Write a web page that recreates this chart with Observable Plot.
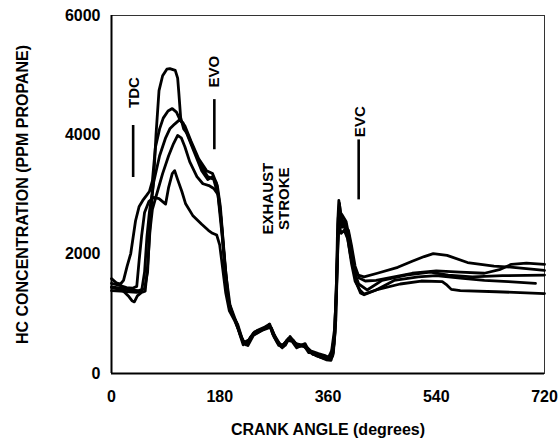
<!DOCTYPE html>
<html>
<head>
<meta charset="utf-8">
<script src="https://cdn.jsdelivr.net/npm/d3@7"></script>
<script src="https://cdn.jsdelivr.net/npm/@observablehq/plot@0.6"></script>
<style>
  html, body { margin: 0; padding: 0; background: #fff; }
</style>
</head>
<body>
<div id="chart"></div>
<script>
// Tick labels
const xTicks = [0, 180, 360, 540, 720];
const yTicks = [0, 2000, 4000, 6000];

// Five measured cycles: crank angle (deg) and HC concentration (ppm propane)
const cycle1Angle = [0,15,30,45,55,60,63,67,70,74,79,85,92,97,106,110,112,115,120,126,135,148,160,170,177,182,186,190,196,205,212,219,226,236,250,258,263,268,276,284,292,300,308,316,324,335,348,360,366,371,374,376,378,381,386,392,398,404,410,420,442,476,500,520,535,558,592,636,668,720];
const cycle1HC    = [1450,1430,1400,1390,1420,1700,2300,2900,3230,4000,4740,4990,5100,5110,5080,4950,4700,4290,4100,4020,3800,3500,3300,3250,3000,2500,2100,1550,1100,900,700,480,520,680,740,770,830,660,520,430,560,540,430,470,430,320,300,270,330,650,1500,2500,2900,2700,2500,2300,1950,1750,1650,1620,1680,1780,1880,1960,2010,1980,1860,1800,1780,1730];

const cycle2Angle = [0,8,15,20,26,32,40,46,52,58,63,68,73,80,86,94,101,108,114,122,132,145,158,168,176,181,185,190,195,203,210,218,224,232,245,256,263,270,278,286,296,305,312,322,328,340,355,364,368,372,375,377,379,382,388,394,399,405,412,422,440,470,500,540,580,620,645,665,690,720];
const cycle2HC    = [1590,1520,1500,1560,1800,2010,2560,2800,2900,2980,3050,3230,3790,4100,4280,4400,4440,4380,4250,4150,3900,3600,3400,3350,3150,2800,2300,1700,1200,950,820,560,480,620,700,760,800,620,470,450,600,520,460,500,380,300,250,240,300,700,1700,2600,2850,2550,2450,2400,2150,1800,1600,1550,1560,1620,1680,1720,1700,1680,1740,1830,1850,1830];

const cycle3Angle = [0,15,30,42,50,55,59,63,70,80,90,97,105,113,119,126,138,150,160,168,174,179,184,189,194,200,208,215,222,230,242,255,262,268,276,284,294,302,310,320,328,338,350,360,366,370,373,376,379,383,388,393,398,404,411,425,450,490,530,560,600,650,720];
const cycle3HC    = [1390,1380,1370,1360,1380,1700,2300,2700,3200,3650,3950,4100,4180,4250,4200,4000,3700,3400,3250,3300,3200,2900,2400,1750,1250,1000,850,620,500,580,720,780,820,700,530,460,590,560,450,470,350,340,290,260,290,500,1200,2200,2650,2450,2550,2350,2000,1700,1500,1400,1560,1650,1700,1650,1620,1640,1650];

const cycle4Angle = [0,10,20,28,34,38,43,50,56,60,64,68,75,85,95,103,110,116,122,130,142,152,162,170,177,182,186,191,197,206,213,220,228,238,252,261,266,272,282,291,299,308,318,326,334,345,357,365,369,373,376,378,382,387,393,399,405,413,420,440,470,510,540,580,620,660,705];
const cycle4HC    = [1440,1420,1380,1300,1220,1200,1300,1360,1380,1800,2400,2750,3000,3350,3650,3850,3990,3950,3800,3550,3300,3180,3150,3100,3000,2600,2100,1600,1150,900,680,520,560,700,750,790,760,600,450,540,580,470,460,420,330,280,230,220,350,900,2000,2500,2350,2400,2250,1850,1550,1400,1330,1400,1560,1620,1640,1600,1560,1540,1510];

const cycle5Angle = [0,12,25,35,42,46,50,55,62,70,79,85,90,95,101,105,110,117,123,135,150,161,168,175,180,185,190,196,204,212,219,227,236,250,260,265,271,280,289,297,306,316,324,331,344,355,361,366,371,374,377,380,384,390,395,401,408,414,420,440,480,515,550,558,565,580,640,720];
const cycle5HC    = [1510,1480,1440,1430,1460,1900,2300,2700,2880,2950,2930,2880,2840,3120,3350,3400,3250,3050,2850,2650,2500,2400,2350,2320,2150,1750,1350,1050,900,720,520,470,640,720,760,780,640,490,470,620,500,480,450,380,335,300,270,380,750,1400,2400,2700,2650,2550,2300,1900,1500,1350,1320,1400,1500,1550,1540,1480,1410,1390,1370,1340];

// Event markers
const markerNames = ["TDC", "EVO", "EVC"];
const markerAngle = [36, 171, 411];
const markerLow   = [3285, 3750, 2910];
const markerHigh  = [4156, 4590, 3915];
const markerLabelAngle = [37, 171, 414];
const markerLabelHC    = [4710, 5060, 4220];

const strokeLabel = ["EXHAUST\nSTROKE"];
const strokeLabelAngle = [274];
const strokeLabelHC = [2930];

const xTitle = "CRANK ANGLE (degrees)";
const yTitle = "HC CONCENTRATION (PPM PROPANE)";

const cycles = [
  [cycle1Angle, cycle1HC],
  [cycle2Angle, cycle2HC],
  [cycle3Angle, cycle3HC],
  [cycle4Angle, cycle4HC],
  [cycle5Angle, cycle5HC]
];
const rows = cycles.flatMap(([a, h], i) => a.map((x, j) => ({cycle: i + 1, angle: x, hc: h[j]})));
const markers = markerNames.map((n, i) => ({name: n, x: markerAngle[i], y1: markerLow[i], y2: markerHigh[i], lx: markerLabelAngle[i], ly: markerLabelHC[i]}));
const strokeRows = strokeLabel.map((t, i) => ({t, x: strokeLabelAngle[i], y: strokeLabelHC[i]}));

const font = "Liberation Sans, Arial, Helvetica, sans-serif";

const chart = Plot.plot({
  width: 559,
  height: 442,
  marginLeft: 111,
  marginRight: 15,
  marginTop: 15,
  marginBottom: 69,
  style: {fontFamily: font, fontSize: "16px", fontWeight: "bold", background: "#fff", color: "#000", overflow: "visible"},
  x: {domain: [0, 720]},
  y: {domain: [0, 6000]},
  marks: [
    Plot.frame({stroke: "#333", strokeWidth: 1}),
    Plot.axisX(xTicks, {tickSize: 0, tickPadding: 17, tickFormat: d => String(d), label: null, fontSize: 16}),
    Plot.axisY(yTicks, {tickSize: 0, tickPadding: 11, tickFormat: d => String(d), label: null, fontSize: 16}),
    Plot.ruleX([0], {stroke: "#000", strokeWidth: 2}),
    Plot.ruleY([0], {stroke: "#000", strokeWidth: 2}),
    Plot.line(rows, {x: "angle", y: "hc", z: "cycle", stroke: "#000", strokeWidth: 2.8, strokeLinejoin: "round", strokeLinecap: "round"}),
    Plot.ruleX(markers, {x: "x", y1: "y1", y2: "y2", stroke: "#000", strokeWidth: 2.6}),
    Plot.text(markers, {x: "lx", y: "ly", text: "name", rotate: -90, fontSize: 15, fontWeight: "bold", fill: "#000"}),
    Plot.text(strokeRows, {x: "x", y: "y", text: "t", rotate: -90, fontSize: 15, fontWeight: "bold", lineHeight: 1.05, fill: "#000"}),
    Plot.text([xTitle], {frameAnchor: "bottom", dy: 56, textAnchor: "middle", lineAnchor: "middle", fontSize: 16, fontWeight: "bold", fill: "#000"}),
    Plot.text([yTitle], {frameAnchor: "left", dx: -89, rotate: -90, textAnchor: "middle", lineAnchor: "middle", fontSize: 16, fontWeight: "bold", fill: "#000"})
  ]
});
document.getElementById("chart").appendChild(chart);
</script>
</body>
</html>
